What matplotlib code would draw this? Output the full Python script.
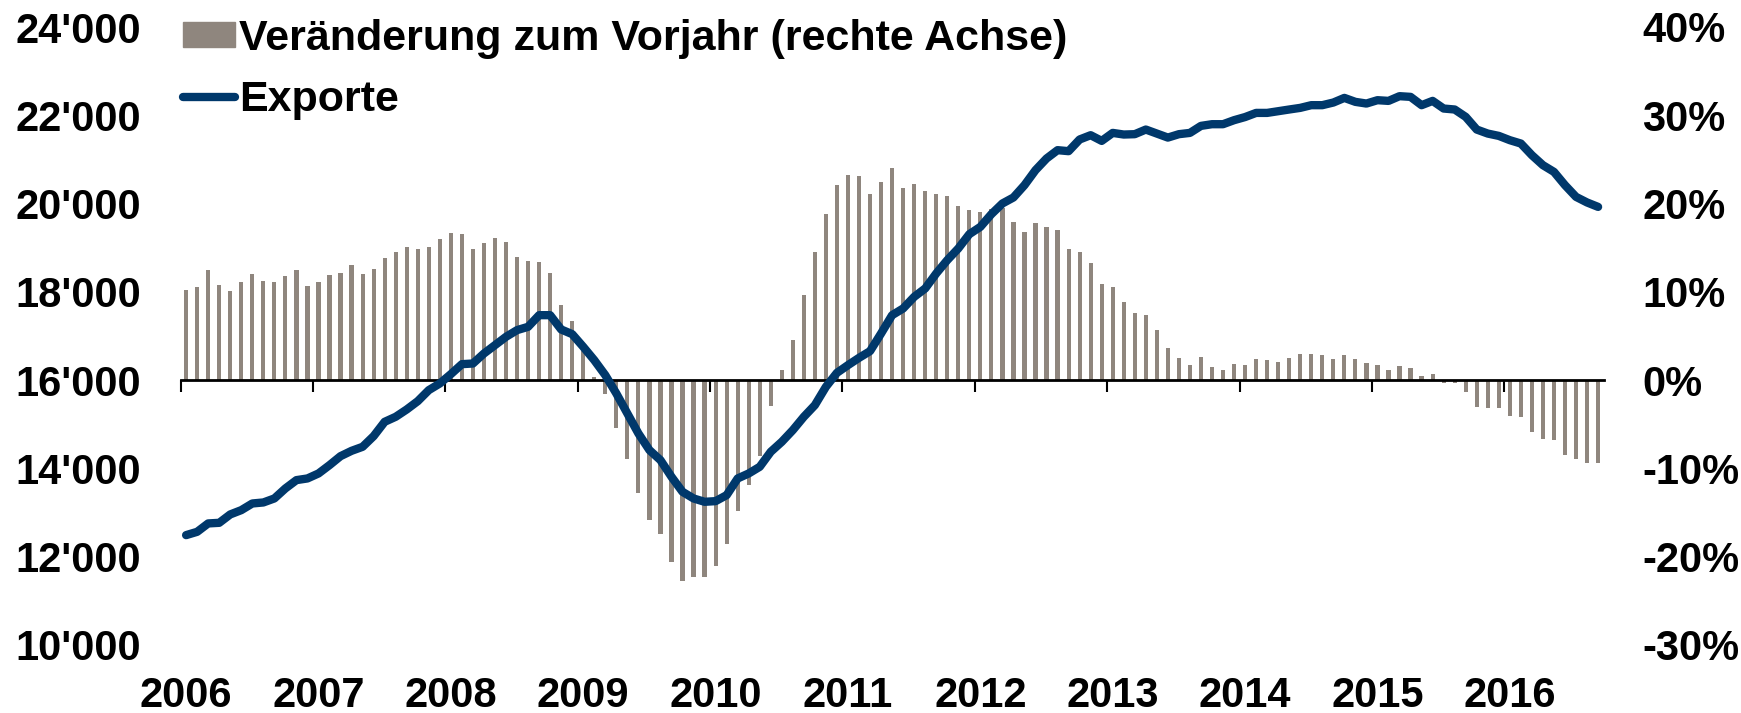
import numpy as np
import matplotlib.pyplot as plt
from matplotlib.ticker import FuncFormatter
from matplotlib.patches import Patch
from matplotlib.lines import Line2D

plt.rcParams['font.family'] = ['Liberation Sans', 'DejaVu Sans']
plt.rcParams['font.weight'] = 'bold'
plt.rcParams['font.size'] = 30

years = list(range(2006, 2017))

# Veränderung zum Vorjahr in %, monthly Jan 2006 - Sep 2016 (right axis)
yoy_pct = [
    10.2, 10.5, 12.5, 10.8, 10.1, 11.1, 12.0, 11.2, 11.1, 11.8, 12.5, 10.7,
    11.1, 11.9, 12.1, 13.0, 12.0, 12.6, 13.8, 14.5, 15.1, 14.8, 15.1, 16.0,
    16.7, 16.5, 14.8, 15.5, 16.1, 15.7, 14.0, 13.5, 13.4, 12.1, 8.5, 6.7,
    3.3, 0.4, -1.6, -5.4, -8.9, -12.8, -15.8, -17.4, -20.6, -22.7, -22.3, -22.3,
    -21.0, -18.6, -14.8, -11.9, -8.6, -2.9, 1.1, 4.5, 9.7, 14.5, 18.8, 22.1,
    23.2, 23.1, 21.1, 22.5, 24.0, 21.8, 22.2, 21.4, 21.1, 20.9, 19.7, 19.3,
    19.1, 19.4, 19.5, 17.9, 16.8, 17.8, 17.4, 17.0, 14.8, 14.5, 13.3, 10.9,
    10.6, 8.9, 7.6, 7.4, 5.7, 3.6, 2.5, 1.7, 2.6, 1.5, 1.1, 1.8,
    1.7, 2.4, 2.3, 2.0, 2.5, 3.0, 3.0, 2.9, 2.4, 2.8, 2.4, 1.9,
    1.7, 1.1, 1.6, 1.4, 0.5, 0.7, -0.3, -0.3, -1.3, -3.0, -3.1, -3.2,
    -4.1, -4.2, -5.9, -6.7, -6.8, -8.5, -8.9, -9.4, -9.4,
]

# Exporte, monthly (left axis)
exports = [
    12489, 12564, 12754, 12768, 12958, 13055, 13206, 13229, 13320, 13547, 13735, 13773,
    13886, 14075, 14278, 14399, 14490, 14732, 15056, 15170, 15336, 15524, 15774, 15925,
    16136, 16362, 16377, 16604, 16793, 16982, 17133, 17208, 17472, 17472, 17148, 17042,
    16755, 16453, 16113, 15698, 15245, 14793, 14415, 14188, 13810, 13470, 13320, 13244,
    13259, 13395, 13773, 13886, 14037, 14377, 14603, 14868, 15170, 15434, 15849, 16166,
    16340, 16505, 16657, 17057, 17472, 17624, 17887, 18077, 18417, 18718, 18983, 19307,
    19472, 19760, 20002, 20138, 20417, 20757, 21021, 21210, 21187, 21452, 21549, 21420,
    21601, 21564, 21572, 21677, 21586, 21495, 21572, 21601, 21760, 21798, 21798, 21889,
    21960, 22054, 22054, 22093, 22131, 22168, 22229, 22229, 22289, 22394, 22304, 22266,
    22342, 22326, 22433, 22417, 22229, 22326, 22153, 22131, 21964, 21677, 21586, 21533,
    21436, 21360, 21096, 20870, 20718, 20417, 20152, 20025, 19925,
]

bar_color = '#8F867E'
line_color = '#00386B'

months = np.arange(len(exports)) + 0.5
year_ticks = np.arange(len(years)) * 12

fig = plt.figure(figsize=(17.41, 7.13), dpi=100)
rect = [180.6 / 1741, 68 / 713, 1423 / 1741, 618 / 713]

# bars, right axis
axb = fig.add_axes(rect)
axb.bar(months, yoy_pct, width=0.38, color=bar_color)
axb.set_xlim(0, len(exports))
axb.set_ylim(-30, 40)
axb.yaxis.tick_right()
axb.set_yticks(range(-30, 41, 10))
axb.yaxis.set_major_formatter(FuncFormatter(lambda v, p: f"{v:.0f}%"))
axb.tick_params(axis='y', length=0, pad=27.7)
axb.set_xticks(year_ticks)
axb.tick_params(axis='x', direction='out', length=8.6, width=1.5, labelbottom=False)
axb.spines['bottom'].set_position(('data', 0))
axb.spines['bottom'].set_linewidth(2)
for s in ['top', 'left', 'right']:
    axb.spines[s].set_visible(False)

# line, left axis
ax = fig.add_axes(rect)
ax.patch.set_visible(False)
ax.plot(months, exports, color=line_color, lw=6,
        solid_capstyle='round', solid_joinstyle='round')
ax.set_xlim(0, len(exports))
ax.set_ylim(10000, 24000)
ax.set_yticks(range(10000, 24001, 2000))
ax.yaxis.set_major_formatter(FuncFormatter(lambda v, p: f"{v:,.0f}".replace(",", "'")))
ax.tick_params(axis='y', length=0, pad=28.5)
ax.set_xticks(year_ticks + 0.5, labels=years)
ax.tick_params(axis='x', length=0, pad=22)
for s in ax.spines.values():
    s.set_visible(False)

handles = [Patch(color=bar_color),
           Line2D([], [], color=line_color, lw=6, solid_capstyle='round')]
labels = ['Veränderung zum Vorjahr (rechte Achse)', 'Exporte']
fig.legend(handles, labels, loc='upper left', bbox_to_anchor=(183 / 1741, 0.974),
           frameon=False, borderpad=0, borderaxespad=0, handlelength=1.2,
           handleheight=0.5, handletextpad=0.1, labelspacing=0.5, fontsize=31)

fig.savefig('out.png', dpi=100)
